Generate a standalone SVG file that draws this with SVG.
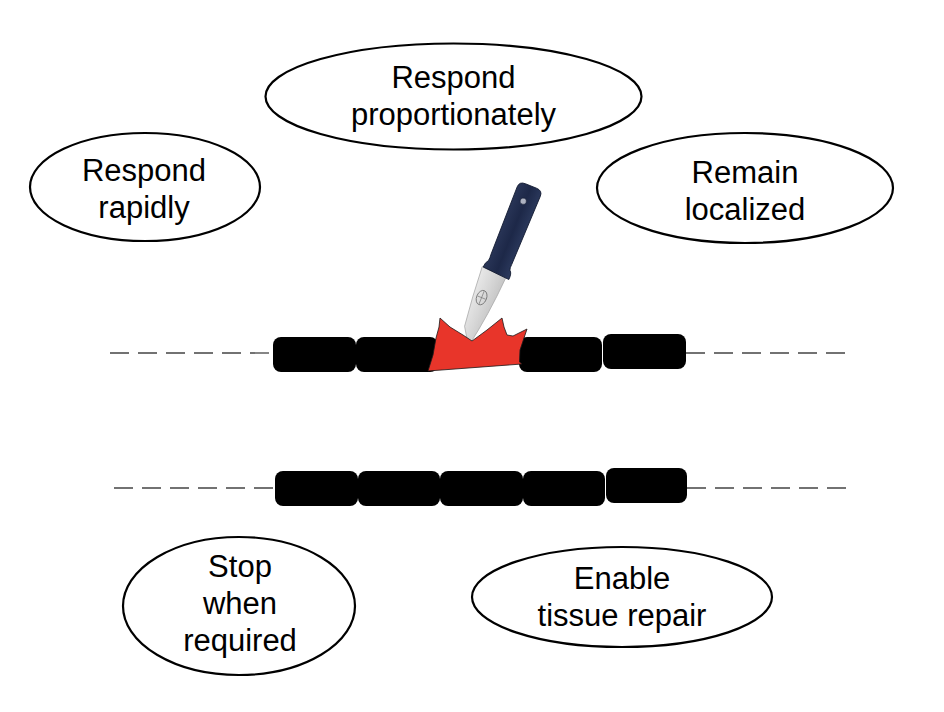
<svg xmlns="http://www.w3.org/2000/svg" width="944" height="712" viewBox="0 0 944 712">
  <style>
    .node ellipse { fill: #ffffff; stroke: #000000; stroke-width: 2.2; }
    .node text { font-family: "Liberation Sans", Arial, Helvetica, sans-serif; font-size: 31px; fill: #000000; text-anchor: middle; }
    .block { fill: #000000; }
    .dash { stroke: #444444; stroke-width: 1.3; stroke-dasharray: 19 9; fill: none; }
  </style>
  <defs>
    <linearGradient id="bladeGrad" x1="0" y1="0" x2="1" y2="0">
      <stop offset="0" stop-color="#e8e8e8"/>
      <stop offset="0.5" stop-color="#d8d8d8"/>
      <stop offset="1" stop-color="#c6c6c6"/>
    </linearGradient>
    <linearGradient id="handleGrad" x1="0" y1="0" x2="1" y2="0">
      <stop offset="0" stop-color="#2a3658"/>
      <stop offset="0.5" stop-color="#1d2848"/>
      <stop offset="1" stop-color="#2c3a5e"/>
    </linearGradient>
  </defs>
  <rect width="944" height="712" fill="#ffffff"/>

  <g id="connectors">
    <line class="dash" x1="110" y1="353" x2="273" y2="353"/>
    <line class="dash" x1="686" y1="353" x2="850" y2="353"/>
    <line class="dash" x1="114" y1="488" x2="275" y2="488"/>
    <line class="dash" x1="687" y1="488" x2="846" y2="488"/>
  </g>

  <g id="membrane-top">
    <rect class="block" x="273" y="337" width="83" height="35" rx="8"/>
    <rect class="block" x="356" y="337" width="82" height="35" rx="8"/>
    <rect class="block" x="519" y="337" width="83" height="35" rx="8"/>
    <rect class="block" x="603" y="334" width="83" height="35" rx="8"/>
  </g>

  <g id="membrane-bottom">
    <rect class="block" x="275" y="471" width="83" height="35" rx="8"/>
    <rect class="block" x="358" y="471" width="82" height="35" rx="8"/>
    <rect class="block" x="440" y="471" width="83" height="35" rx="8"/>
    <rect class="block" x="523" y="471" width="82" height="35" rx="8"/>
    <rect class="block" x="606" y="468" width="81" height="35" rx="8"/>
  </g>

  <g id="knife" transform="translate(531 186) rotate(22)">
    <path d="M -15,93 L 11,95 Q 9,135 2,172 L -9,155 Q -13,125 -15,93 Z" fill="url(#bladeGrad)" stroke="#a8a8a8" stroke-width="0.7"/>
    <ellipse cx="-4" cy="122" rx="5" ry="7.5" fill="none" stroke="#707070" stroke-width="0.8"/>
    <line x1="-4" y1="115" x2="-4" y2="129" stroke="#707070" stroke-width="0.6"/>
    <line x1="-8.5" y1="122" x2="0.5" y2="122" stroke="#707070" stroke-width="0.6"/>
    <path d="M -12.5,6 Q -12.5,0 -6,0 L 6,0 Q 12.5,0 12.5,6 L 11.5,80 Q 11,84 12,86 Q 15,88 14.5,95 L -14,93 Q -14,88 -11.5,85 Q -11,82 -11.5,78 Z" fill="url(#handleGrad)" stroke="#121a30" stroke-width="0.8"/>
    <circle cx="-1.5" cy="17" r="3.2" fill="#aeb3c2" stroke="#121a30" stroke-width="0.6"/>
  </g>

  <g id="wound">
    <path d="M 428,371 L 433,355 L 436,338 L 439,327 L 440,318 L 450,327 L 463,335 L 472,341 L 487,330 L 497,322 L 502,318 L 504,327 L 507,335 L 513,336 L 527,329 L 524,338 L 520,350 L 519.5,362 L 522,364 Z" fill="#e8352a" stroke="#1a1a1a" stroke-width="0.8" stroke-linejoin="round"/>
  </g>

  <g id="node-respond-proportionately" class="node">
    <ellipse cx="453.5" cy="96.5" rx="188" ry="53"/>
    <text x="453.5" y="88">Respond</text>
    <text x="453.5" y="125">proportionately</text>
  </g>

  <g id="node-respond-rapidly" class="node">
    <ellipse cx="145" cy="187" rx="115" ry="54"/>
    <text x="144" y="181">Respond</text>
    <text x="144" y="218">rapidly</text>
  </g>

  <g id="node-remain-localized" class="node">
    <ellipse cx="745" cy="188" rx="148" ry="55"/>
    <text x="745" y="183">Remain</text>
    <text x="745" y="220">localized</text>
  </g>

  <g id="node-stop-when-required" class="node">
    <ellipse cx="239" cy="606" rx="116" ry="69"/>
    <text x="240" y="577">Stop</text>
    <text x="240" y="614">when</text>
    <text x="240" y="651">required</text>
  </g>

  <g id="node-enable-tissue-repair" class="node">
    <ellipse cx="622" cy="597" rx="150" ry="50"/>
    <text x="622" y="589">Enable</text>
    <text x="622" y="626">tissue repair</text>
  </g>
</svg>
